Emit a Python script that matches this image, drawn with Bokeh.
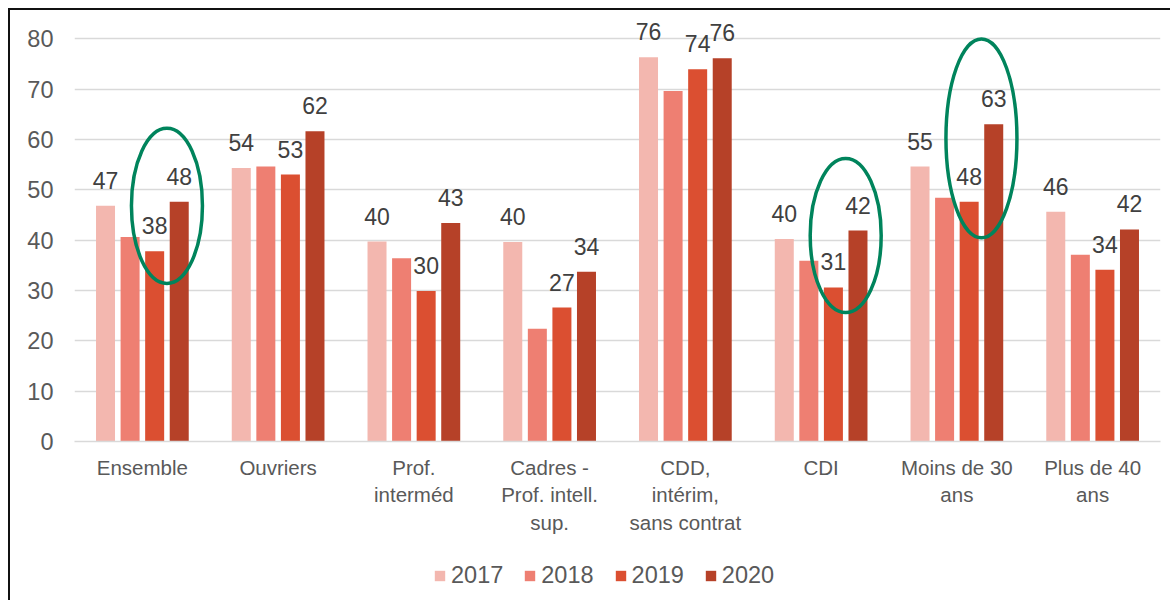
from bokeh.plotting import figure
from bokeh.models import (ColumnDataSource, FactorRange, Legend, LegendItem,
                          LabelSet, FixedTicker, Range1d, Spacer)
from bokeh.layouts import column, row
from bokeh.transform import dodge
from bokeh.core.properties import value
from bokeh.embed import file_html
from bokeh.resources import INLINE

# ---------------- data ----------------
categories = ["Ensemble", "Ouvriers", "Prof.\ninterméd",
              "Cadres -\nProf. intell.\nsup.", "CDD,\nintérim,\nsans contrat",
              "CDI", "Moins de 30\nans", "Plus de 40\nans"]
years = ["2017", "2018", "2019", "2020"]
v2017 = [46.8, 54.3, 39.7, 39.6, 76.3, 40.2, 54.6, 45.6]
v2018 = [40.6, 54.6, 36.4, 22.4, 69.6, 35.9, 48.4, 37.1]
v2019 = [37.8, 53.0, 29.9, 26.6, 73.9, 30.6, 47.6, 34.1]
v2020 = [47.6, 61.6, 43.4, 33.7, 76.1, 41.9, 63.0, 42.1]
labelled_years = ["2017", "2019", "2020"]
y_ticks = [0, 10, 20, 30, 40, 50, 60, 70, 80]

# highlighted groups (green ellipses around 2019-2020 bars)
highlight_cats = ["Ensemble", "CDI", "Moins de 30\nans"]
highlight_mid = [46.8, 40.9, 60.2]
highlight_span = [30.8, 30.6, 39.5]

# ---------------- styles ----------------
colors = ["#F3B7AF", "#EE7F72", "#DB4F31", "#B64128"]
FONT = "Liberation Sans"
GREY_TXT = "#595959"
GRID = "#D9D9D9"
offsets = [-0.2715, -0.0905, 0.0905, 0.2715]
BAR_W = 0.14

values = {"2017": v2017, "2018": v2018, "2019": v2019, "2020": v2020}
data = {"cat": categories}
for y in years:
    data[y] = values[y]
    data["lbl" + y] = [str(int(v + 0.5)) for v in values[y]]
src = ColumnDataSource(data)

p = figure(x_range=FactorRange(*categories, range_padding=0),
           y_range=Range1d(0, 84),
           width=1160, height=545,
           output_backend="svg", toolbar_location=None,
           min_border_left=64, min_border_right=10,
           min_border_top=8, min_border_bottom=114,
           outline_line_color=None)

for y, off, c in zip(years, offsets, colors):
    p.vbar(x=dodge("cat", off, range=p.x_range), top=y, width=BAR_W,
           source=src, fill_color=c, line_color=None)
    if y in labelled_years:
        lbl = LabelSet(x=dodge("cat", off, range=p.x_range), y=y,
                       text="lbl" + y, source=src, y_offset=17,
                       text_align="center", text_baseline="alphabetic",
                       text_font=value(FONT), text_font_size="23px",
                       text_color="#404040")
        p.add_layout(lbl)

# ellipses
esrc = ColumnDataSource(dict(cat=highlight_cats, y=highlight_mid, h=highlight_span))
p.ellipse(x=dodge("cat", 0.181, range=p.x_range), y="y", width=71, height="h",
          width_units="screen", height_units="data", source=esrc,
          fill_color=None, line_color="#00845C", line_width=3.5)

# axes & grid
p.xgrid.grid_line_color = None
p.ygrid.grid_line_color = GRID
p.ygrid.grid_line_width = 1.5
p.yaxis.ticker = FixedTicker(ticks=y_ticks)
p.yaxis.axis_line_color = None
p.yaxis.major_tick_line_color = None
p.yaxis.minor_tick_line_color = None
p.yaxis.major_tick_out = 0
p.yaxis.major_label_standoff = 21
p.yaxis.major_label_text_font = FONT
p.yaxis.major_label_text_font_size = "23.5px"
p.yaxis.major_label_text_color = GREY_TXT

p.xaxis.axis_line_color = GRID
p.xaxis.axis_line_width = 1.5
p.xaxis.major_tick_line_color = None
p.xaxis.major_tick_out = 0
p.xaxis.major_label_standoff = 14
p.xaxis.major_label_text_font = FONT
p.xaxis.major_label_text_font_size = "20.5px"
p.xaxis.major_label_text_color = GREY_TXT
p.xaxis.major_label_text_line_height = 1.2

# ---------------- legend strip ----------------
pl = figure(width=1160, height=45, output_backend="svg", toolbar_location=None,
            x_range=Range1d(0, 1), y_range=Range1d(0, 1),
            x_axis_location=None, y_axis_location=None,
            min_border=0, min_border_left=0, min_border_right=0,
            min_border_top=0, min_border_bottom=0,
            outline_line_color=None)
pl.grid.grid_line_color = None
# legend proxies (kept outside the visible range of the strip)
src_leg = ColumnDataSource(dict(x=[-5.0], top=[0.0]))
leg_renderers = [pl.vbar(x="x", top="top", width=0.1, source=src_leg,
                         fill_color=c, line_color=None)
                 for c in colors]
legend = Legend(items=[LegendItem(label=y, renderers=[r]) for y, r in zip(years, leg_renderers)],
                orientation="horizontal", location=(359, 11), margin=0,
                padding=0, spacing=20, label_standoff=5,
                glyph_width=13, glyph_height=13,
                label_text_font=FONT, label_text_font_size="23.5px",
                label_text_color=GREY_TXT,
                border_line_color=None, background_fill_alpha=0)
pl.add_layout(legend)

inner = column(p, pl, spacing=0,
               styles={"border-top": "2px solid #111111",
                       "border-left": "2px solid #111111"})
layout = column(Spacer(height=8), row(Spacer(width=8), inner))
open("out.html", "w").write(file_html(layout, INLINE))
